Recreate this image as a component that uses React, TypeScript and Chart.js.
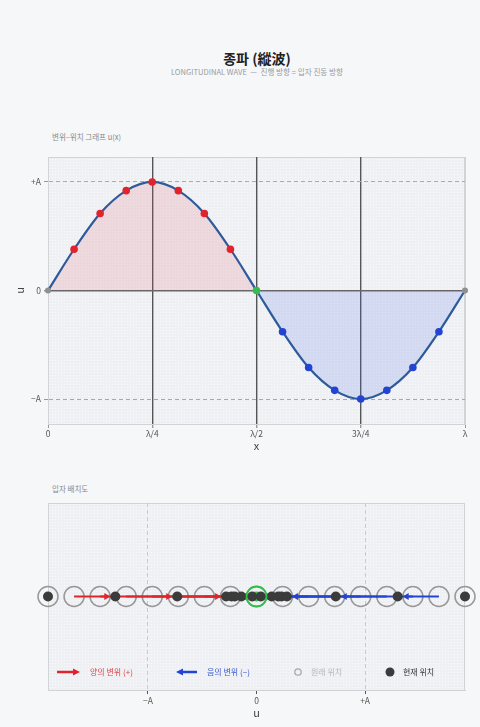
import React, { useEffect, useRef } from 'react';
import { Chart, registerables } from 'chart.js';

Chart.register(...registerables);

// ---------- data ----------
const particleX = [0, 0.0625, 0.125, 0.1875, 0.25, 0.3125, 0.375, 0.4375, 0.5, 0.5625, 0.625, 0.6875, 0.75, 0.8125, 0.875, 0.9375, 1];
const displacement = [0, 0.38, 0.71, 0.92, 1, 0.92, 0.71, 0.38, 0, -0.38, -0.71, -0.92, -1, -0.92, -0.71, -0.38, 0];
const waveTickValues = [0, 0.25, 0.5, 0.75, 1];
const waveTickLabels = ['0', 'λ/4', 'λ/2', '3λ/4', 'λ'];
const uTickValues = [-1, 0, 1];
const uTickLabels = ['−A', '0', '+A'];
const equilibrium = [-1.92, -1.68, -1.44, -1.2, -0.96, -0.72, -0.48, -0.24, 0, 0.24, 0.48, 0.72, 0.96, 1.2, 1.44, 1.68, 1.92];
const nodeIndex = 8;
const legendLabels = ['양의 변위 (+)', '음의 변위 (−)', '원래 위치', '현재 위치'];

const FONT = '"Noto Sans CJK KR", "Noto Sans", sans-serif';
const RED = '#e0242c';
const BLUE = '#2344d2';
const GREEN = '#33bd4a';
const GRAY = '#8f8f8f';
const DARK = '#3b3b3b';

const current = equilibrium.map((x, i) => x + displacement[i]);

function pointColor(i: number) {
  if (i === nodeIndex) return GREEN;
  if (displacement[i] > 0) return RED;
  if (displacement[i] < 0) return BLUE;
  return GRAY;
}

function makePattern(ctx: CanvasRenderingContext2D) {
  const c = document.createElement('canvas');
  c.width = 3;
  c.height = 3;
  const p = c.getContext('2d')!;
  p.fillStyle = '#eff0f3';
  p.fillRect(0, 0, 3, 3);
  p.fillStyle = '#f9fafb';
  p.fillRect(1, 1, 1, 1);
  return ctx.createPattern(c, 'repeat');
}

const plotFrame = {
  id: 'plotFrame',
  beforeDraw(chart: any) {
    const { ctx, chartArea: a } = chart;
    ctx.save();
    ctx.fillStyle = makePattern(ctx) || '#f0f1f4';
    ctx.fillRect(a.left, a.top, a.right - a.left, a.bottom - a.top);
    ctx.strokeStyle = '#d2d3d6';
    ctx.lineWidth = 1;
    ctx.strokeRect(a.left + 0.5, a.top + 0.5, a.right - a.left - 1, a.bottom - a.top);
    ctx.restore();
  },
};

function drawArrow(ctx: CanvasRenderingContext2D, x0: number, tip: number, y: number, color: string, width: number, head: number, half: number) {
  const dir = tip > x0 ? 1 : -1;
  ctx.strokeStyle = color;
  ctx.fillStyle = color;
  ctx.lineWidth = width;
  ctx.beginPath();
  ctx.moveTo(x0, y);
  ctx.lineTo(tip - dir * head * 0.8, y);
  ctx.stroke();
  ctx.beginPath();
  ctx.moveTo(tip, y);
  ctx.lineTo(tip - dir * head, y - half);
  ctx.lineTo(tip - dir * head, y + half);
  ctx.closePath();
  ctx.fill();
}

const arrowPlugin = {
  id: 'arrows',
  afterDatasetDraw(chart: any, args: any) {
    if (chart.data.datasets[args.index].label !== 'rings') return;
    const { ctx, scales } = chart;
    const xs = scales.x;
    const y = scales.y.getPixelForValue(0);
    ctx.save();
    for (let i = 0; i < displacement.length; i++) {
      const d = displacement[i];
      if (d === 0) continue;
      const x0 = xs.getPixelForValue(equilibrium[i]);
      const x1 = xs.getPixelForValue(current[i]);
      const dir = d > 0 ? 1 : -1;
      drawArrow(ctx, x0, x1 - dir * 5, y, d > 0 ? RED : BLUE, 2, 6, 3.5);
    }
    ctx.restore();
  },
};

const legendPlugin = {
  id: 'beadLegend',
  afterDraw(chart: any) {
    const { ctx, chartArea: a } = chart;
    const y = a.bottom - 18;
    const L = a.left;
    ctx.save();
    ctx.font = `8px ${FONT}`;
    ctx.textBaseline = 'middle';
    ctx.textAlign = 'left';
    drawArrow(ctx, L + 9, L + 32, y, RED, 2.5, 7, 3.5);
    ctx.fillStyle = '#d9464b';
    ctx.fillText(legendLabels[0], L + 42, y);
    drawArrow(ctx, L + 149, L + 128, y, BLUE, 2.5, 7, 3.5);
    ctx.fillStyle = '#3b5bd0';
    ctx.fillText(legendLabels[1], L + 159, y);
    ctx.beginPath();
    ctx.arc(L + 250, y, 3.2, 0, Math.PI * 2);
    ctx.strokeStyle = '#a8a8a8';
    ctx.lineWidth = 1.3;
    ctx.stroke();
    ctx.fillStyle = '#b8b8b8';
    ctx.fillText(legendLabels[2], L + 263, y);
    ctx.beginPath();
    ctx.arc(L + 342, y, 4.5, 0, Math.PI * 2);
    ctx.fillStyle = DARK;
    ctx.fill();
    ctx.fillStyle = '#333';
    ctx.fillText(legendLabels[3], L + 355, y);
    ctx.restore();
  },
};

function waveConfig(): any {
  const pts = particleX.map((x, i) => ({ x, y: displacement[i] }));
  return {
    type: 'line',
    data: {
      datasets: [
        {
          label: 'particles',
          data: pts,
          showLine: false,
          pointRadius: particleX.map((_, i) => (i === 0 || i === particleX.length - 1 ? 3 : 3.8)),
          pointBackgroundColor: particleX.map((_, i) => pointColor(i)),
          pointBorderColor: particleX.map((_, i) => pointColor(i)),
          pointBorderWidth: 0,
          clip: false,
          order: 0,
        },
        {
          label: 'u(x)',
          data: pts,
          borderColor: '#2d5a9b',
          borderWidth: 2.2,
          pointRadius: 0,
          cubicInterpolationMode: 'monotone',
          fill: { target: 'origin', above: 'rgba(222,90,100,0.16)', below: 'rgba(80,115,230,0.18)' },
          clip: false,
          order: 1,
        },
      ],
    },
    options: {
      animation: false,
      responsive: false,
      layout: { padding: { top: 47, right: 15, left: 0, bottom: 0 } },
      plugins: { legend: { display: false }, tooltip: { enabled: false } },
      scales: {
        x: {
          type: 'linear',
          min: 0,
          max: 1,
          afterBuildTicks: (s: any) => {
            s.ticks = waveTickValues.map((v) => ({ value: v }));
          },
          afterFit: (s: any) => {
            s.height = 36;
          },
          ticks: {
            callback: (_v: any, i: number) => waveTickLabels[i],
            font: { family: FONT, size: 8.5 },
            color: '#555',
            padding: 1,
            maxRotation: 0,
          },
          grid: {
            color: (c: any) => (c.tick && c.tick.value > 0 && c.tick.value < 1 ? '#555' : '#d2d3d6'),
            lineWidth: (c: any) => (c.tick && c.tick.value > 0 && c.tick.value < 1 ? 1.4 : 1),
            tickLength: 4,
            tickColor: '#999',
          },
          border: { color: '#d2d3d6' },
          title: {
            display: true,
            text: 'x',
            font: { family: FONT, size: 11 },
            color: '#444',
            padding: { top: 0, bottom: 7.4 },
          },
        },
        y: {
          type: 'linear',
          min: -1.23,
          max: 1.23,
          afterBuildTicks: (s: any) => {
            s.ticks = uTickValues.map((v) => ({ value: v }));
          },
          afterFit: (s: any) => {
            s.width = 48;
          },
          ticks: {
            callback: (_v: any, i: number) => uTickLabels[i],
            font: { family: FONT, size: 8.5 },
            color: '#555',
            padding: 3,
          },
          grid: {
            color: (c: any) => {
              if (!c.tick) return '#ccc';
              if (c.tick.value === 0) return '#666';
              return c.tick.value > 0 ? '#ec8c9a' : '#9ea6cc';
            },
            lineWidth: (c: any) => (c.tick && c.tick.value === 0 ? 1.5 : 1),
            tickLength: 4,
            tickColor: '#999',
          },
          border: {
            color: '#d2d3d6',
            dash: (c: any) => (c.tick && c.tick.value !== 0 ? [4, 3] : []),
          },
          title: {
            display: true,
            text: 'u',
            font: { family: FONT, size: 11 },
            color: '#444',
            padding: { top: 13.4, bottom: 0 },
          },
        },
      },
    },
    plugins: [plotFrame],
  };
}

function beadConfig(): any {
  return {
    type: 'scatter',
    data: {
      datasets: [
        {
          label: 'rings',
          data: equilibrium.map((x) => ({ x, y: 0 })),
          pointRadius: 10,
          pointBackgroundColor: 'rgba(0,0,0,0)',
          pointBorderColor: 'rgba(135,135,135,0.85)',
          pointBorderWidth: 1.5,
          clip: false,
          order: 5,
        },
        {
          label: 'node',
          data: [{ x: current[nodeIndex], y: 0 }],
          pointRadius: 5,
          pointBackgroundColor: GREEN,
          pointBorderWidth: 0,
          clip: false,
          order: 4,
        },
        {
          label: 'current',
          data: current.map((x) => ({ x, y: 0 })).filter((_, i) => i !== nodeIndex),
          pointRadius: 5,
          pointBackgroundColor: DARK,
          pointBorderWidth: 0,
          clip: false,
          order: 3,
        },
        {
          label: 'nodeRing',
          data: [{ x: equilibrium[nodeIndex], y: 0 }],
          pointRadius: 10,
          pointBackgroundColor: 'rgba(0,0,0,0)',
          pointBorderColor: '#2fc048',
          pointBorderWidth: 1.8,
          clip: false,
          order: 2,
        },
      ],
    },
    options: {
      animation: false,
      responsive: false,
      layout: { padding: { top: 33, right: 15, left: 48, bottom: 0 } },
      plugins: { legend: { display: false }, tooltip: { enabled: false } },
      scales: {
        x: {
          type: 'linear',
          min: -1.92,
          max: 1.92,
          afterBuildTicks: (s: any) => {
            s.ticks = uTickValues.map((v) => ({ value: v }));
          },
          afterFit: (s: any) => {
            s.height = 37;
          },
          ticks: {
            callback: (_v: any, i: number) => uTickLabels[i],
            font: { family: FONT, size: 8.5 },
            color: '#555',
            padding: 1.6,
            maxRotation: 0,
          },
          grid: {
            color: (c: any) => (c.tick && c.tick.value !== 0 ? '#c9c9cc' : 'rgba(0,0,0,0)'),
            lineWidth: 1,
            tickLength: 4,
            tickColor: '#555',
          },
          border: {
            color: '#d2d3d6',
            dash: (c: any) => (c.tick ? [4, 3] : []),
          },
          title: {
            display: true,
            text: 'u',
            font: { family: FONT, size: 11 },
            color: '#444',
            padding: { top: 0, bottom: 7.4 },
          },
        },
        y: {
          type: 'linear',
          display: false,
          min: -1,
          max: 1,
        },
      },
    },
    plugins: [plotFrame, arrowPlugin, legendPlugin],
  };
}

export default function App() {
  const waveRef = useRef<HTMLCanvasElement>(null);
  const beadRef = useRef<HTMLCanvasElement>(null);

  useEffect(() => {
    const c1 = new Chart(waveRef.current!, waveConfig());
    const c2 = new Chart(beadRef.current!, beadConfig());
    return () => {
      c1.destroy();
      c2.destroy();
    };
  }, []);

  const text = (top: number, size: number, color: string, extra: any = {}) => ({
    position: 'absolute' as const,
    top,
    fontSize: size,
    lineHeight: `${Math.round(size * 1.4)}px`,
    color,
    whiteSpace: 'nowrap' as const,
    fontFamily: FONT,
    ...extra,
  });

  return (
    <div
      style={{
        position: 'absolute',
        left: 0,
        top: 0,
        width: 480,
        height: 727,
        background: '#f6f7f9',
        overflow: 'hidden',
        fontFamily: FONT,
      }}
    >
      <div style={text(48, 14, '#222', { left: 257, transform: 'translateX(-50%)', fontWeight: 700 })}>종파 (縱波)</div>
      <div style={text(66, 7.6, '#9a9a9a', { left: 257, transform: 'translateX(-50%)' })}>
        LONGITUDINAL WAVE &nbsp;—&nbsp; 진행 방향 = 입자 진동 방향
      </div>
      <div style={text(131, 7.5, '#888', { left: 52 })}>변위–위치 그래프 u(x)</div>
      <div style={text(483, 7.5, '#888', { left: 52 })}>입자 배치도</div>
      <canvas ref={waveRef} width={480} height={350} style={{ position: 'absolute', left: 0, top: 110 }} />
      <canvas ref={beadRef} width={480} height={257} style={{ position: 'absolute', left: 0, top: 470 }} />
    </div>
  );
}
